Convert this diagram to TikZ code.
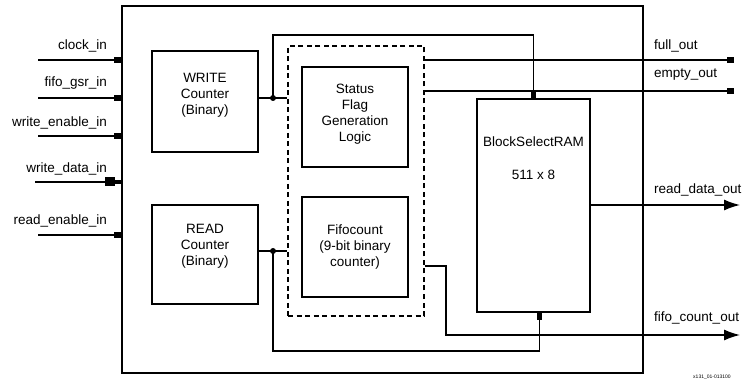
\documentclass[tikz,border=0pt]{standalone}
\usepackage{fontspec}
\setmainfont{Liberation Sans}
\usetikzlibrary{arrows.meta, positioning}

\tikzset{
  blk/.style={draw, line width=1.3pt, align=center, inner sep=0pt,
    font=\fontsize{13.5}{16}\selectfont},
  sig/.style={font=\fontsize{13.5}{16}\selectfont, inner sep=0pt},
  wire/.style={line width=1.3pt},
  port/.style={wire, -{Rectangle[length=7pt,width=5.5pt]}},
  busin/.style={wire, -{Rectangle[length=10pt,width=9pt]Rectangle[length=6pt,width=4pt]}},
  busout/.style={wire, -{Latex[length=16pt,width=11pt]}},
  junction/.style={circle, fill, inner sep=0pt, minimum size=6pt}
}

\begin{document}
\begin{tikzpicture}[x=1pt, y=-1pt]
  \useasboundingbox (0,0) rectangle (744,387);
  % Blocks
  \node[blk, minimum width=521, minimum height=367] (outer) at (382.5,189.5) {};
  \node[blk, text depth=16pt, minimum width=106, minimum height=101] (wctr) at (205,101.5) {WRITE\\Counter\\(Binary)};
  \node[blk, text depth=20pt, minimum width=106, minimum height=99] (rctr) at (205,254.5) {READ\\Counter\\(Binary)};
  \node[blk, dash pattern=on 5pt off 3.5pt, minimum width=136, minimum height=270] (dash) at (356,181) {};
  \node[blk, text depth=8pt, minimum width=106, minimum height=100] (flag) at (355,117) {Status\\Flag\\Generation\\Logic};
  \node[blk, minimum width=106, minimum height=100] (fcnt) at (355,247) {Fifocount\\(9-bit binary\\counter)};
  \node[blk, minimum width=113, minimum height=213] (ram) at (533.5,205.5) {};
  \node[sig, align=center, below=38pt of ram.north] (ramlbl) {BlockSelectRAM\\[17pt]511 x 8};
  % Inputs
  \coordinate (clk) at (38,60);
  \coordinate (gsr) at (38,98);
  \coordinate (wen) at (38,136);
  \coordinate (wdat) at (35,182);
  \coordinate (ren) at (38,235);
  \draw[port] (clk) -- (clk -| outer.west);
  \draw[port] (gsr) -- (gsr -| outer.west);
  \draw[port] (wen) -- (wen -| outer.west);
  \draw[busin] (wdat) -- (wdat -| outer.west);
  \draw[port] (ren) -- (ren -| outer.west);
  \node[sig, anchor=south east] (clklbl) at (107,52) {clock\_in};
  \node[sig, anchor=south east] (gsrlbl) at (107,90) {fifo\_gsr\_in};
  \node[sig, anchor=south east] (wenlbl) at (107,129) {write\_enable\_in};
  \node[sig, anchor=south east] (wdatlbl) at (107,175) {write\_data\_in};
  \node[sig, anchor=south east] (renlbl) at (107,227) {read\_enable\_in};
  % Counter outputs
  \coordinate (wdot) at (273,98);
  \coordinate (wtop) at (273,35);
  \coordinate (rdot) at (273,251);
  \coordinate (rbot) at (273,351);
  \draw[wire] (wctr.east |- wdot) -- (dash.west |- wdot);
  \draw[wire] (rctr.east |- rdot) -- (dash.west |- rdot);
  \node[junction] (wj) at (wdot) {};
  \node[junction] (rj) at (rdot) {};
  \draw[port] (wj.center) -- (wtop) -| (ram.north);
  \draw[port] (rj.center) -- (rbot) -| ([xshift=6]ram.south);
  % Outputs
  \coordinate (fullo) at (734,60);
  \coordinate (emptyo) at (734,91);
  \coordinate (rdo) at (740,205);
  \coordinate (fbend) at (446,266);
  \coordinate (fco) at (740,335);
  \draw[port] (dash.east |- fullo) -- (fullo);
  \draw[port] (dash.east |- emptyo) -- (emptyo);
  \draw[busout] (ram.east |- rdo) -- (rdo);
  \draw[busout] (dash.east |- fbend) -- (fbend) |- (fco);
  \node[sig, anchor=south west] (fulllbl) at (654,52) {full\_out};
  \node[sig, anchor=south west] (emptylbl) at (654,81) {empty\_out};
  \node[sig, anchor=south west] (rdolbl) at (654,196) {read\_data\_out};
  \node[sig, anchor=south west] (fcolbl) at (654,324) {fifo\_count\_out};
  \node[font=\fontsize{5}{6}\selectfont, inner sep=0pt] (figid) at (712,377) {x131\_01-013100};
\end{tikzpicture}
\end{document}
